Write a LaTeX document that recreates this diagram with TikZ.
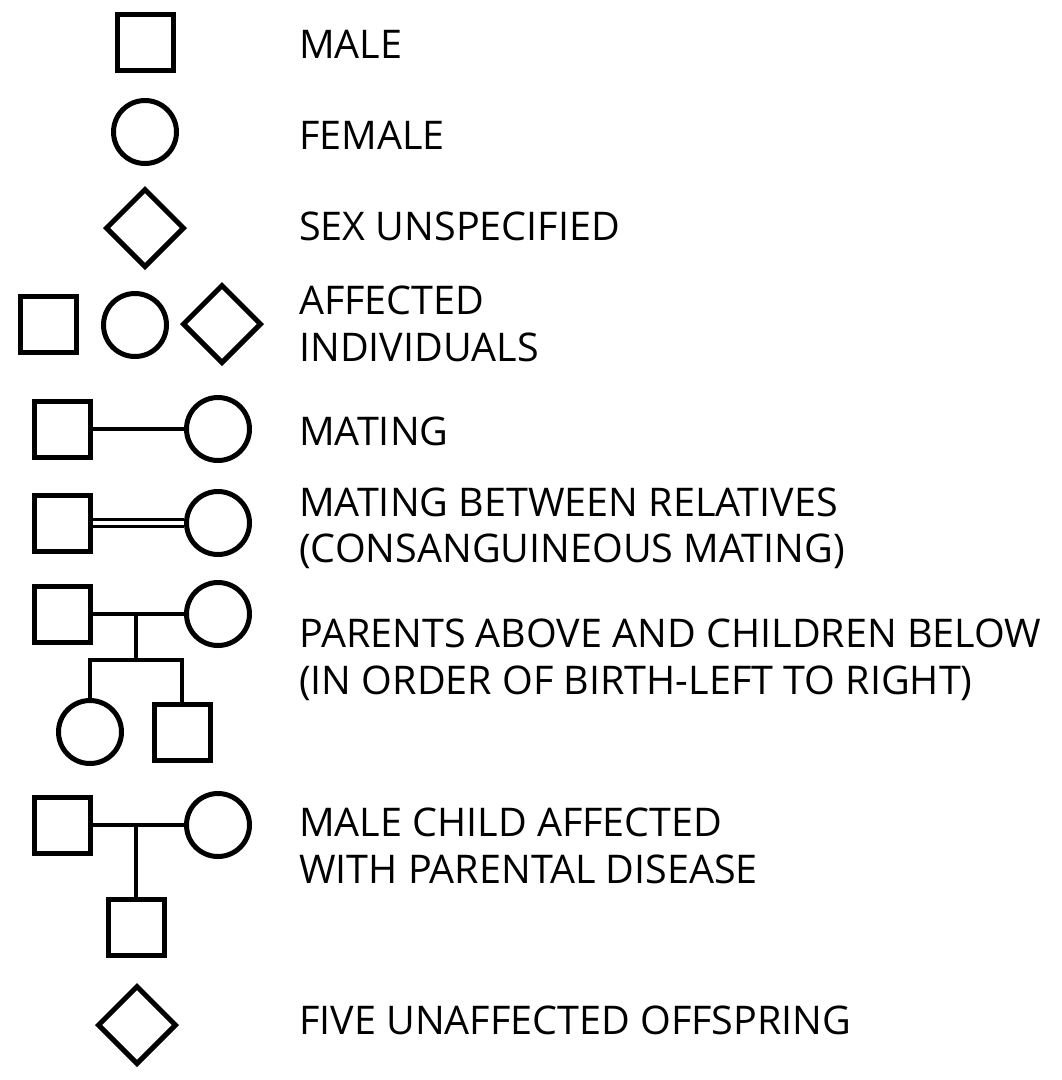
\documentclass[tikz,border=0pt]{standalone}
\usepackage{fontspec}
\setmainfont{Open Sans}
\usetikzlibrary{shapes.geometric}
\begin{document}
\begin{tikzpicture}[x=1pt,y=-1pt,
  lw/.style={line width=5pt},
  msq/.style={draw,lw,rectangle,minimum size=56pt,inner sep=0pt},
  fci/.style={draw,lw,circle,minimum size=63pt,inner sep=0pt},
  udi/.style={draw,lw,diamond,minimum size=79pt,inner sep=0pt,aspect=1},
  con/.style={line width=4.5pt},
  lab/.style={anchor=base west,inner sep=0pt,font=\fontsize{39.5}{47}\selectfont}]
\useasboundingbox (0,0) rectangle (1062,1080);
% shapes
\node[msq] (m1) at (145,42) {};
\node[fci] (f1) at (145,132) {};
\node[udi] (u1) at (145,228) {};
\node[msq] (am) at (48,324) {};
\node[fci] (af) at (135,325) {};
\node[udi] (au) at (222,324) {};
% mating
\node[msq] (mm) at (62,429) {};
\node[fci] (mf) at (218,429) {};
\draw[con] (mm) -- (mf);
% consanguineous
\node[msq] (cm) at (62,523) {};
\node[fci] (cf) at (218,523) {};
\draw[line width=3pt] ([yshift=-3.5pt]cm.east) -- ([yshift=-3.5pt]cf.west);
\draw[line width=3pt] ([yshift=3.5pt]cm.east) -- ([yshift=3.5pt]cf.west);
% parents/children
\node[msq] (pm) at (62,614) {};
\node[fci] (pf) at (218,614) {};
\coordinate (pj) at (136,614);
\coordinate (pk) at (136,660);
\coordinate (pl) at (90,660);
\coordinate (pr) at (182,660);
\node[fci] (c1) at (90,732) {};
\node[msq] (c2) at (182,732) {};
\draw[con] (pm) -- (pf);
\draw[con] (pj) -- (pk);
\draw[con] (c1.north) -- (pl) -- (pr) -- (c2.north);
% male child affected
\node[msq] (dm) at (62,825) {};
\node[fci] (df) at (218,825) {};
\coordinate (dj) at (136,825);
\node[msq] (dc) at (136,927) {};
\draw[con] (dm) -- (df);
\draw[con] (dj) -- (dc.north);
% five unaffected
\node[udi] (fu) at (137,1025) {};
% labels
\node[lab] (t1) at (299,58) {MALE};
\node[lab] (t2) at (299,149) {FEMALE};
\node[lab] (t3) at (299,240) {SEX UNSPECIFIED};
\node[lab] (t4a) at (299,314) {AFFECTED};
\node[lab] (t4b) at (299,361) {INDIVIDUALS};
\node[lab] (t5) at (299,445) {MATING};
\node[lab] (t6a) at (299,516) {MATING BETWEEN RELATIVES};
\node[lab] (t6b) at (299,562) {(CONSANGUINEOUS MATING)};
\node[lab] (t7a) at (299,647) {PARENTS ABOVE AND CHILDREN BELOW};
\node[lab] (t7b) at (299,694) {(IN ORDER OF BIRTH-LEFT TO RIGHT)};
\node[lab] (t8a) at (299,836) {MALE CHILD AFFECTED};
\node[lab] (t8b) at (299,883) {WITH PARENTAL DISEASE};
\node[lab] (t9) at (299,1034) {FIVE UNAFFECTED OFFSPRING};
\end{tikzpicture}
\end{document}
